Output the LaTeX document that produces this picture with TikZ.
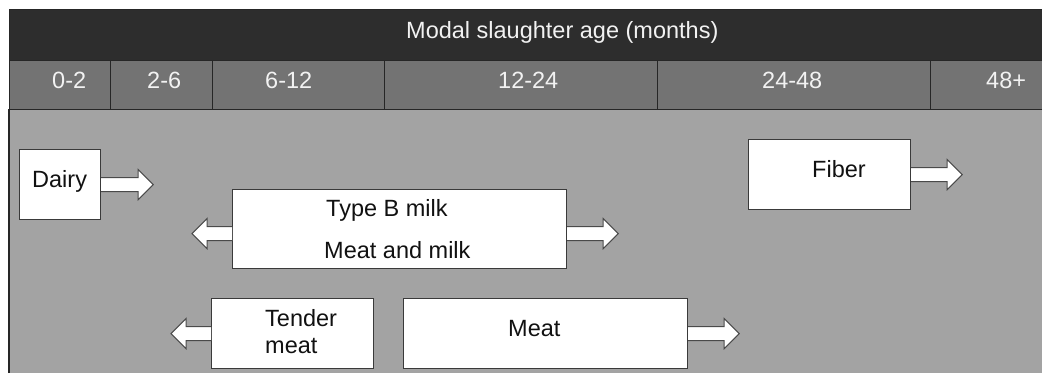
\documentclass[tikz,border=0pt]{standalone}
\usepackage{fontspec}
\setmainfont{Liberation Sans}
\usepackage{xcolor}
\usetikzlibrary{positioning,calc}
\definecolor{agHead}{HTML}{2D2D2D}
\definecolor{agRow}{HTML}{737373}
\definecolor{agBody}{HTML}{A3A3A3}
\definecolor{agRule}{HTML}{262626}
\definecolor{agEdge}{HTML}{3A3A3A}
\definecolor{agArrow}{HTML}{4A4A4A}
\definecolor{agLight}{HTML}{F2F2F2}
\definecolor{agInk}{HTML}{111111}
\tikzset{
  % Dark header band
  headband/.style={rectangle,draw=agRule,line width=1pt,fill=agHead,
    anchor=north west,inner sep=0pt},
  % Age class cell
  agecell/.style={rectangle,draw=agRule,line width=1.2pt,fill=agRow,
    anchor=north west,minimum height=49,inner sep=0pt},
  % White product box
  prodbox/.style={rectangle,draw=agEdge,line width=1.2pt,fill=white,
    anchor=north west,inner sep=0pt},
  % Texts
  hdrtxt/.style={font=\fontsize{23.5}{27}\selectfont,text=agLight,
    anchor=base west,inner sep=0pt},
  boxtxt/.style={font=\fontsize{23.5}{27}\selectfont,text=agInk,
    anchor=base west,inner sep=0pt},
  % Block arrow
  fatarr/.style={draw=agArrow,line width=1pt,fill=white,line join=miter},
}
% block arrow: start point, direction (1 or -1), length
\newcommand{\fatarrow}[3]{%
  \draw[fatarr] ($(#1)+(0,-7)$) -- ++({#2*(#3-15)},0) -- ++(0,-8)
    -- ($(#1)+({#2*#3},0)$) -- ($(#1)+({#2*(#3-15)},15)$) -- ++(0,-8)
    -- ($(#1)+(0,7)$);
}
\begin{document}
\begin{tikzpicture}[x=1pt,y=-1pt]
  \useasboundingbox (0,0) rectangle (1042,373);
  \fill[agBody] (9,109) rectangle (1042,373);
  \draw[agRule,line width=1.2pt] (9,373) -- (9,109);

  % header
  \node[headband,minimum width=1033,minimum height=51] (head) at (9,9) {};
  \node[hdrtxt] (title) at (406,38) {Modal slaughter age (months)};

  % age classes
  \foreach \xa/\xb/\lab/\tx [count=\i] in
    {9/110/0-2/52, 110/212/2-6/147, 212/384/6-12/265,
     384/657/12-24/498, 657/930/24-48/762, 930/1043/48+/986} {
    \node[agecell,minimum width={\xb-\xa}] (age\i) at (\xa,60) {};
    \node[hdrtxt] (agelab\i) at (\tx,88) {\lab};
  }

  % product boxes
  \node[prodbox,minimum width=81,minimum height=70] (dairy) at (19,149) {};
  \node[boxtxt] (dairylab) at (32,187) {Dairy};
  \node[prodbox,minimum width=334,minimum height=79] (typeb) at (232,189) {};
  \node[boxtxt] (typeblab) at (326,216) {Type B milk};
  \node[boxtxt] (mmlab) at (324,258) {Meat and milk};
  \node[prodbox,minimum width=162,minimum height=70] (tender) at (211,298) {};
  \node[boxtxt] (tenderlab) at (265,326) {Tender};
  \node[boxtxt] (tenderlab2) at (265,353) {meat};
  \node[prodbox,minimum width=284,minimum height=70] (meat) at (403,298) {};
  \node[boxtxt] (meatlab) at (508,336) {Meat};
  \node[prodbox,minimum width=162,minimum height=70] (fiber) at (748,139) {};
  \node[boxtxt] (fiberlab) at (812,177) {Fiber};

  % arrows
  \fatarrow{dairy.east}{1}{52}
  \fatarrow{[yshift=-4.5pt]typeb.west}{-1}{40}
  \fatarrow{[yshift=-4.5pt]typeb.east}{1}{51}
  \fatarrow{tender.west}{-1}{40}
  \fatarrow{meat.east}{1}{51}
  \fatarrow{fiber.east}{1}{51}
\end{tikzpicture}
\end{document}
